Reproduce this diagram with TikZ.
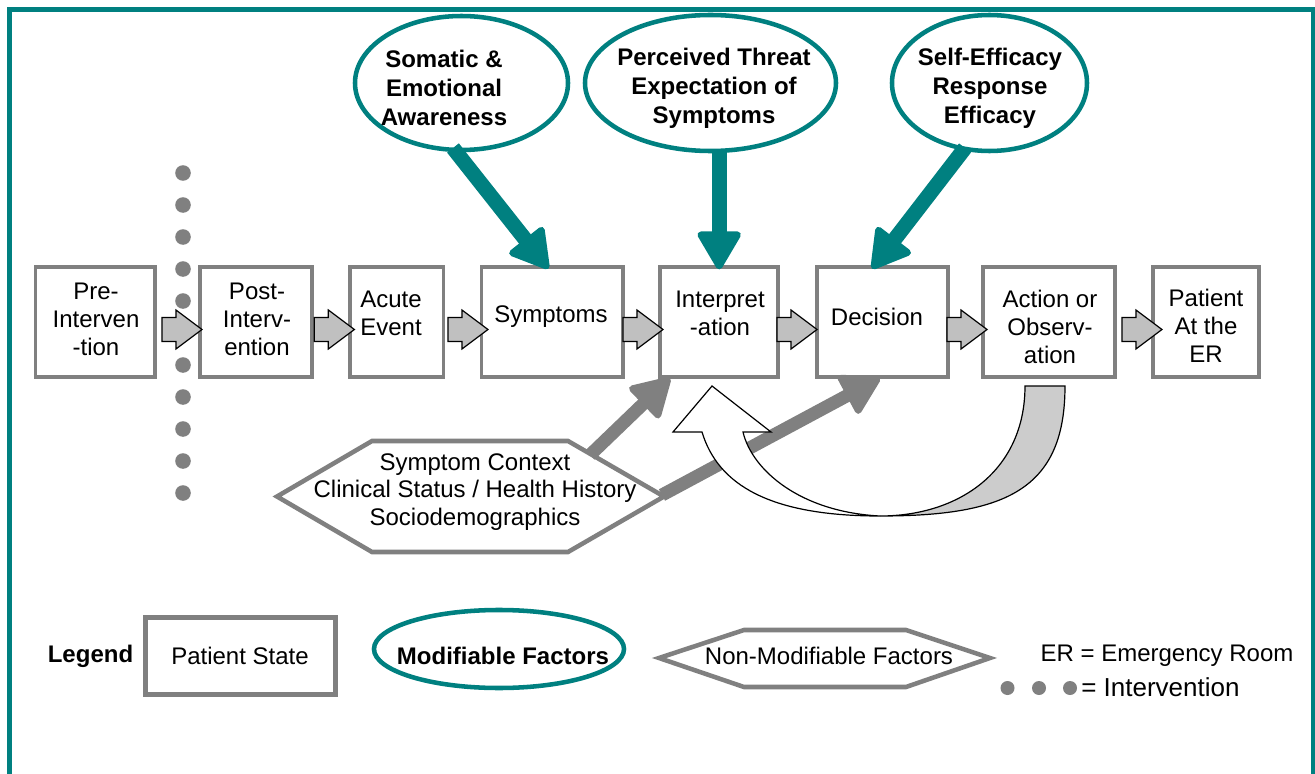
\documentclass[tikz,border=0pt]{standalone}
\usepackage{fontspec}
\setmainfont{Liberation Sans}
\usetikzlibrary{arrows.meta,shapes.geometric,calc}
\definecolor{tealc}{HTML}{008080}
\definecolor{boxgray}{HTML}{808080}
\definecolor{afill}{HTML}{C0C0C0}
\definecolor{cfill}{HTML}{CCCCCC}
\tikzset{
  barrow/.pic={\draw[fill=afill, draw=black, line width=0.9pt, line join=miter]
     (0,0) -- (-26,-19.5) -- (-26,-12) -- (-40,-12) -- (-40,12) -- (-26,12) -- (-26,19.5) -- cycle;},
  stbox/.style={draw=boxgray, line width=2.8pt, fill=white, minimum height=82.5pt, inner sep=0pt, outer sep=0pt},
  boxtext/.style={align=center, font=\fontsize{18}{21}\selectfont, inner sep=0pt},
  modell/.style={ellipse, draw=tealc, line width=3.4pt, fill=white, inner sep=0pt, outer sep=0pt},
  modtext/.style={align=center, font=\fontsize{18}{21.6}\selectfont\bfseries, inner sep=0pt},
  hexline/.style={draw=boxgray, line width=3.4pt, fill=white, line join=miter},
  tealarrow/.style={draw=tealc, line width=11.25pt, -{Triangle[length=31pt,width=35pt,round,line width=5pt]}},
  grayarrow/.style={draw=boxgray, line width=9.75pt, -{Triangle[length=31pt,width=35pt,round,line width=5pt]}},
  ivdot/.style={circle, fill=boxgray, inner sep=0pt, minimum size=11.7pt},
  curveline/.style={draw=black, line width=0.9pt, line join=miter}
}
\begin{document}
\begin{tikzpicture}[x=0.75pt,y=-0.75pt]
\useasboundingbox (0,0) rectangle (1315,774);
\clip (0,0) rectangle (1315,774);
\fill[white] (0,0) rectangle (1315,774);
% border
\draw[tealc, line width=3.4pt] (9.5,800) -- (9.5,9.5) -- (1313.5,9.5) -- (1313.5,800);

% intervention dots
\foreach \k in {0,...,10} {\node[ivdot] (d\k) at (183,173+32*\k) {};}

% patient state boxes
\node[stbox, minimum width=89.6pt] (b1) at (95.3,321.7) {};
\node[stbox, minimum width=83.8pt] (b2) at (255.8,321.7) {};
\node[stbox, minimum width=70pt] (b3) at (396.7,321.7) {};
\node[stbox, minimum width=106.4pt] (b4) at (552.4,321.7) {};
\node[stbox, minimum width=88.7pt] (b5) at (719.2,321.7) {};
\node[stbox, minimum width=98.5pt] (b6) at (882.3,321.7) {};
\node[stbox, minimum width=98.8pt] (b7) at (1049.2,321.7) {};
\node[stbox, minimum width=79.7pt] (b8) at (1206.2,321.7) {};

\node[boxtext] (t1) at (96,319) {Pre-\\Interven\\-tion};
\node[boxtext] (t2) at (257,319) {Post-\\Interv-\\ention};
\node[boxtext] (t3) at (391,313) {Acute\\Event};
\node[boxtext] (t4) at (551,317) {Symptoms};
\node[boxtext] (t5) at (720,313) {Interpret\\-ation};
\node[boxtext] (t6) at (877,317) {Decision};
\node[boxtext] (t7) at (1050,327) {Action or\\Observ-\\ation};
\node[boxtext] (t8) at (1206,326) {Patient\\At the\\ER};

% block arrows between states
\pic at ([shift={(2,7.8)}]b2.west) {barrow};
\pic at ([shift={(4.3,7.8)}]b3.west) {barrow};
\pic at ([shift={(6.5,7.8)}]b4.west) {barrow};
\pic at ([shift={(2.9,7.8)}]b5.west) {barrow};
\pic at ([shift={(0.4,7.8)}]b6.west) {barrow};
\pic at ([shift={(3.7,7.8)}]b7.west) {barrow};
\pic at ([shift={(8.9,7.8)}]b8.west) {barrow};

% non-modifiable factors
\draw[hexline] (277,496.5) -- (372,441) -- (568,441) -- (664,496.5) -- (568,552) -- (372,552) -- cycle;
\node[boxtext, font=\fontsize{18}{20.5}\selectfont] (hex) at (475,492) {Symptom Context\\Clinical Status / Health History\\Sociodemographics};
\coordinate (g1s) at (590,455);
\coordinate (g2s) at (662,495);
\draw[grayarrow] (g1s) -- ([shift={(10,1.3)}]b5.south west);
\draw[grayarrow] (g2s) -- ([shift={(-2.3,1.3)}]b6.south);

% curved feedback arrow (over the grey connector)
\path[curveline, fill=cfill] (880,516) .. controls (1005,516) and (1065,490) .. (1065,386)
   -- (1025,386) .. controls (1025,470) and (960,516) .. (880,516) -- cycle;
\path[curveline, fill=white] (702,432) .. controls (718,485) and (770,516) .. (880,516)
   .. controls (800,512) and (752,470) .. (743,432) -- (771,432) -- (712,386) -- (673,432) -- cycle;

% modifiable factors
\node[modell, minimum width=159.75pt, minimum height=100.5pt] (e1) at (461.5,83) {};
\node[modell, minimum width=188.25pt, minimum height=102pt] (e2) at (710.5,83) {};
\node[modell, minimum width=146.25pt, minimum height=102pt] (e3) at (989.5,83) {};
\node[modtext] (e1t) at (444,88) {Somatic \&\\Emotional\\Awareness};
\node[modtext] (e2t) at (714,88) {Perceived Threat\\Expectation of\\Symptoms};
\node[modtext] (e3t) at (990,88) {Self-Efficacy\\Response\\Efficacy};

\draw[tealarrow] ([shift={(-8.5,-2)}]e1.south) -- ([shift={(-4,2)}]b4.north);
\draw[tealarrow] ([yshift=1pt]e2.south -| b5.north) -- ([yshift=-2pt]b5.north);
\draw[tealarrow] ([shift={(-24.5,-3)}]e3.south) -- ([shift={(-10.3,2)}]b6.north);

% legend
\node[modtext] (leg) at (90.5,656) {Legend};
\node[draw=boxgray, line width=3.75pt, fill=white, inner sep=0pt, minimum width=142.5pt, minimum height=57.75pt] (lbox) at (240.5,656) {};
\node[boxtext] (lboxt) at (240,656) {Patient State};
\node[modell, minimum width=187.5pt, minimum height=58.5pt] (lell) at (499,649) {};
\node[modtext] (lellt) at (503,656) {Modifiable Factors};
\draw[hexline] (659,658) -- (744,630) -- (906,630) -- (990,658) -- (906,687) -- (744,687) -- cycle;
\node[boxtext] (lhext) at (829,656) {Non-Modifiable Factors};
\node[boxtext] (er) at (1167,656) {ER = Emergency Room};
\node[ivdot, minimum size=10.5pt] (ld1) at (1007.5,688) {};
\node[ivdot, minimum size=10.5pt] (ld2) at (1039,688) {};
\node[ivdot, minimum size=10.5pt] (ld3) at (1070,688) {};
\node[boxtext, anchor=west, font=\fontsize{19.5}{22}\selectfont] (iv) at (1081,687) {= Intervention};
\end{tikzpicture}
\end{document}
